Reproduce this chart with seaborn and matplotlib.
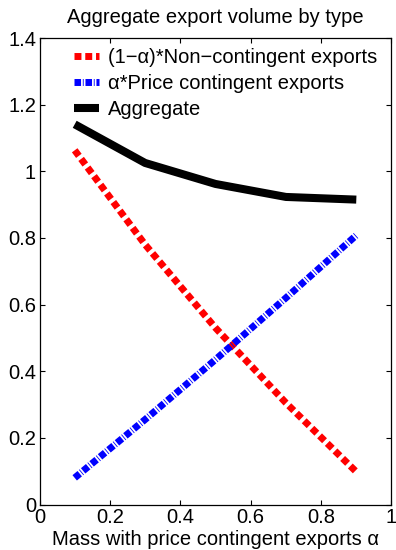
import matplotlib
matplotlib.use("Agg")
import matplotlib.pyplot as plt
import seaborn as sns
import numpy as np

# Mass of firms with price contingent exports
alpha = [0.1, 0.3, 0.5, 0.7, 0.9]
# Export volume components
non_contingent = [1.063, 0.780, 0.530, 0.305, 0.098]
price_contingent = [0.080, 0.255, 0.435, 0.620, 0.808]
aggregate = [1.141, 1.025, 0.962, 0.923, 0.915]

labels = ["(1\u2212\u03b1)*Non\u2212contingent exports",
          "\u03b1*Price contingent exports",
          "Aggregate"]
x_ticks = [0, 0.2, 0.4, 0.6, 0.8, 1]
x_tick_labels = ["0", "0.2", "0.4", "0.6", "0.8", "1"]
y_ticks = [0, 0.2, 0.4, 0.6, 0.8, 1, 1.2, 1.4]
y_tick_labels = ["0", "0.2", "0.4", "0.6", "0.8", "1", "1.2", "1.4"]

sns.set_style("ticks", {
    "xtick.direction": "in",
    "ytick.direction": "in",
    "axes.edgecolor": "black",
    "text.color": "black",
    "axes.labelcolor": "black",
    "xtick.color": "black",
    "ytick.color": "black",
})
plt.rcParams["font.family"] = ["Liberation Sans", "DejaVu Sans"]
plt.rcParams["text.color"] = "black"
plt.rcParams["axes.labelcolor"] = "black"

FS = 14.5

fig = plt.figure(figsize=(3.96, 5.50), dpi=100)
ax = fig.add_axes([39.5 / 396, (550 - 504.5) / 550, 352 / 396, 466.5 / 550])

sns.lineplot(x=alpha, y=non_contingent, ax=ax, color="#ff0000", lw=5,
             linestyle=(0, (1.0, 0.55)), dash_capstyle="butt",
             label=labels[0])
sns.lineplot(x=alpha, y=price_contingent, ax=ax, color="#0000ff", lw=5,
             linestyle=(0, (0.94, 0.26, 0.12, 0.26)), dash_capstyle="butt",
             label=labels[1])
sns.lineplot(x=alpha, y=aggregate, ax=ax, color="black", lw=5.8,
             solid_capstyle="butt", label=labels[2])

ax.set_xlim(0, 1)
ax.set_ylim(0, 1.4)
ax.set_xticks(x_ticks)
ax.set_xticklabels(x_tick_labels)
ax.set_yticks(y_ticks)
ax.set_yticklabels(y_tick_labels)
ax.tick_params(axis="both", which="both", direction="in", length=3.6,
               width=0.8, top=True, right=True, labelsize=FS, pad=2.5,
               colors="black")
for sp in ax.spines.values():
    sp.set_visible(True)
    sp.set_linewidth(0.9)
    sp.set_color("black")

ax.set_title("Aggregate export volume by type", fontsize=FS, pad=11,
             color="black")
ax.set_xlabel("Mass with price contingent exports \u03b1", fontsize=FS,
              labelpad=2.5, color="black")
ax.set_ylabel("")

leg = ax.legend(loc="upper left", bbox_to_anchor=(0.098, 0.978),
                frameon=False, fontsize=FS, handlelength=1.25,
                handletextpad=0.45, labelspacing=0.33, borderpad=0,
                borderaxespad=0)
for t in leg.get_texts():
    t.set_color("black")

fig.savefig("out.png", dpi=100)
